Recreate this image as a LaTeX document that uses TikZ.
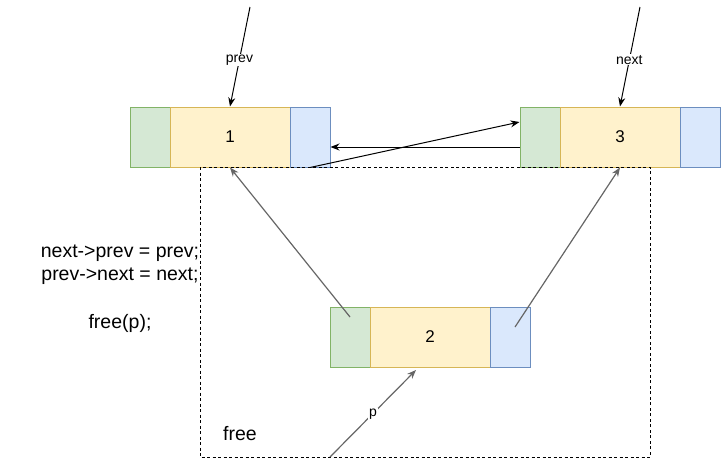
\documentclass[tikz,border=0pt]{standalone}
\usepackage{fontspec}
\setmainfont{Liberation Sans}
\usetikzlibrary{arrows.meta}
\definecolor{gfill}{HTML}{D5E8D4}
\definecolor{gline}{HTML}{82B366}
\definecolor{yfill}{HTML}{FFF2CC}
\definecolor{yline}{HTML}{D6B656}
\definecolor{bfill}{HTML}{DAE8FC}
\definecolor{bline}{HTML}{6C8EBF}
\definecolor{garrow}{HTML}{666666}
\begin{document}
\begin{tikzpicture}[x=1pt,y=-1pt,
  cell/.style={minimum height=60pt,inner sep=0pt,line width=1pt,font=\fontsize{17}{20}\selectfont},
  gcell/.style={cell,minimum width=40pt,fill=gfill,draw=gline},
  ycell/.style={cell,minimum width=120pt,fill=yfill,draw=yline},
  bcell/.style={cell,minimum width=40pt,fill=bfill,draw=bline},
  blk/.style={draw=black,line width=1pt,-{Stealth[length=9pt,width=7pt]}},
  gry/.style={draw=garrow,line width=1.2pt,-{Stealth[length=9pt,width=7pt]}},
  lbl/.style={fill=white,inner sep=1pt,font=\fontsize{14}{16}\selectfont},
  txt/.style={font=\fontsize{19.5}{23}\selectfont,inner sep=0pt},
  dashbox/.style={draw=black,line width=0.8pt,dash pattern=on 3pt off 2.5pt}
]
\useasboundingbox (0,0) rectangle (721,466);
% node 1
\node[gcell] (n1g) at (150,137) {};
\node[ycell] (n1y) at (230,137) {1};
\node[bcell] (n1b) at (310,137) {};
% node 3
\node[gcell] (n3g) at (540,137) {};
\node[ycell] (n3y) at (620,137) {3};
\node[bcell] (n3b) at (700,137) {};
% node 2
\node[gcell] (n2g) at (350,337) {};
\node[ycell] (n2y) at (430,337) {2};
\node[bcell] (n2b) at (510,337) {};
% dashed free region
\draw[dashbox] (200,167) rectangle (650,457);
\node[txt] (freelbl) at (240,434) {free};
% code text
\node[txt] (c1) at (120,253) {next->prev = prev;};
\node[txt] (c2) at (120,276) {prev->next = next;};
\node[txt] (c3) at (120,323) {free(p);};
% pointers
\coordinate (prevs) at (250,7);
\coordinate (nexts) at (640,7);
\coordinate (ps) at (330,457);
\coordinate (pt) at (416,370);
\draw[blk] (prevs) -- (n1y.north) node[pos=0.53,lbl] {prev};
\draw[blk] (nexts) -- (n3y.north) node[pos=0.53,lbl] {next};
\draw[blk] ([yshift=-10pt]n3g.west) -- ([yshift=-10pt]n1b.east);
\draw[blk] (n1b.south) -- ([yshift=15pt]n3g.west);
\draw[gry] ([yshift=20pt]n2g.center) -- (n1y.south);
\draw[gry] ([xshift=5pt,yshift=10pt]n2b.center) -- (n3y.south);
\draw[gry] (ps) -- (pt) node[midway,lbl,yshift=-1pt] {p};
\end{tikzpicture}
\end{document}
